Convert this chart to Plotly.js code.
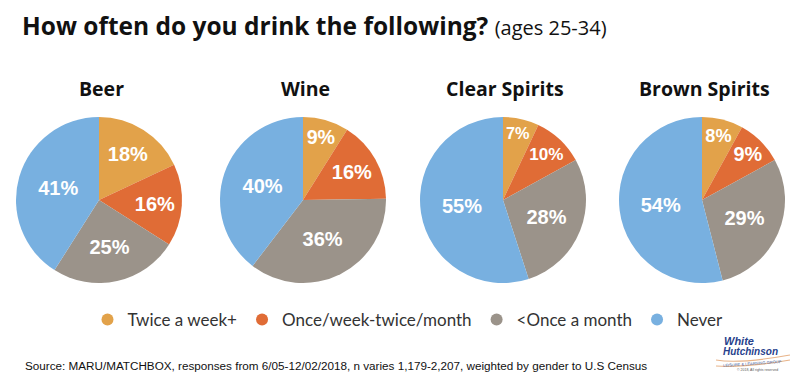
<!DOCTYPE html>
<html>
<head>
<meta charset="utf-8">
<script src="https://cdn.plot.ly/plotly-3.0.1.min.js"></script>
<style>html,body{margin:0;padding:0;background:#fff;}#chart{width:800px;height:379px;}</style>
</head>
<body>
<div id="chart"></div>
<script>
const categories = ["Twice a week+", "Once/week-twice/month", "<Once a month", "Never"];
const drinks = ["Beer", "Wine", "Clear Spirits", "Brown Spirits"];
const beer = [18, 16, 25, 41];
const wine = [9, 16, 36, 40];
const clearSpirits = [7, 10, 28, 55];
const brownSpirits = [8, 9, 29, 54];
const seriesValues = [beer, wine, clearSpirits, brownSpirits];
const colors = ["#E2A24A", "#E06C36", "#9B938A", "#78B0E0"];

const W = 800, H = 379;
const px = v => v / W;
const py = v => 1 - v / H;
const centersX = [99, 303, 503, 702];
const cy = 200, r = 83;

const traces = [];
const annotations = [];
seriesValues.forEach((vals, i) => {
  const cx = centersX[i];
  traces.push({
    type: "pie",
    values: vals,
    labels: categories,
    sort: false,
    direction: "clockwise",
    rotation: 0,
    marker: {colors: colors, line: {width: 0}},
    texttemplate: "%{value}%",
    textposition: "inside",
    insidetextorientation: "horizontal",
    insidetextfont: {family: "Liberation Sans, Arial, sans-serif", size: 20, color: "#ffffff", weight: "bold"},
    hoverinfo: "label+value",
    showlegend: false,
    domain: {x: [px(cx - r), px(cx + r)], y: [py(cy + r), py(cy - r)]}
  });
  annotations.push({
    text: "<b>" + drinks[i] + "</b>",
    x: px(cx + 2), y: py(89), xref: "paper", yref: "paper",
    xanchor: "center", yanchor: "middle", showarrow: false,
    font: {family: "Open Sans, sans-serif", size: 19.5, color: "#111"}
  });
});

// legend entries (circle markers)
categories.forEach((c, k) => {
  traces.push({
    type: "scatter", mode: "markers", x: [null], y: [null],
    name: c, showlegend: true,
    marker: {symbol: "circle", size: 17, color: colors[k]},
    xaxis: "x", yaxis: "y"
  });
});

annotations.push({
  text: "<b>How often do you drink the following?</b> <span style='font-size:20px;font-weight:normal'>(ages 25-34)</span>",
  x: px(20), y: py(25), xref: "paper", yref: "paper",
  xanchor: "left", yanchor: "middle", showarrow: false,
  font: {family: "Open Sans, sans-serif", size: 24.5, color: "#111"}
});
annotations.push({
  text: "Source: MARU/MATCHBOX, responses from 6/05-12/02/2018, n varies 1,179-2,207, weighted by gender to U.S Census",
  x: px(23), y: py(365), xref: "paper", yref: "paper",
  xanchor: "left", yanchor: "middle", showarrow: false,
  font: {family: "Liberation Sans, Arial, sans-serif", size: 11.7, color: "#111"}
});
// logo approximation
annotations.push({
  text: "<b><i>White</i></b>",
  x: px(722), y: py(341), xref: "paper", yref: "paper",
  xanchor: "left", yanchor: "middle", showarrow: false,
  font: {family: "Liberation Sans, Arial, sans-serif", size: 11, color: "#27418C"}
});
annotations.push({
  text: "<b><i>Hutchinson</i></b>",
  x: px(721), y: py(351), xref: "paper", yref: "paper",
  xanchor: "left", yanchor: "middle", showarrow: false,
  font: {family: "Liberation Sans, Arial, sans-serif", size: 10, color: "#27418C"}
});
annotations.push({
  text: "LEISURE & LEARNING GROUP",
  x: px(752), y: py(363), xref: "paper", yref: "paper",
  xanchor: "center", yanchor: "middle", showarrow: false, textangle: -4,
  font: {family: "Liberation Sans, Arial, sans-serif", size: 4, color: "#3A5AA0"}
});
annotations.push({
  text: "© 2018, All rights reserved",
  x: px(757), y: py(370), xref: "paper", yref: "paper",
  xanchor: "center", yanchor: "middle", showarrow: false,
  font: {family: "Liberation Sans, Arial, sans-serif", size: 3.5, color: "#555"}
});

const shapes = [
  {type: "path", xref: "paper", yref: "paper",
   path: `M ${px(716)} ${py(360)} Q ${px(740)} ${py(364)} ${px(790)} ${py(355)}`,
   line: {color: "#E8B48A", width: 1.2}},
  {type: "path", xref: "paper", yref: "paper",
   path: `M ${px(716)} ${py(366)} Q ${px(745)} ${py(368)} ${px(790)} ${py(360)}`,
   line: {color: "#E8B48A", width: 1.2}}
];

const layout = {
  width: W, height: H,
  margin: {l: 0, r: 0, t: 0, b: 0},
  paper_bgcolor: "#ffffff", plot_bgcolor: "rgba(0,0,0,0)",
  xaxis: {visible: false, domain: [0, 0.01]},
  yaxis: {visible: false, domain: [0, 0.01]},
  showlegend: true,
  legend: {
    orientation: "h", x: 0.51, xanchor: "center", y: py(320), yanchor: "middle",
    font: {family: "Lato, sans-serif", size: 17, color: "#333"},
    itemsizing: "constant", itemclick: false, traceorder: "normal",
    bgcolor: "rgba(0,0,0,0)"
  },
  annotations: annotations,
  shapes: shapes
};

Plotly.newPlot("chart", traces, layout, {displayModeBar: false, staticPlot: true});
</script>
</body>
</html>
